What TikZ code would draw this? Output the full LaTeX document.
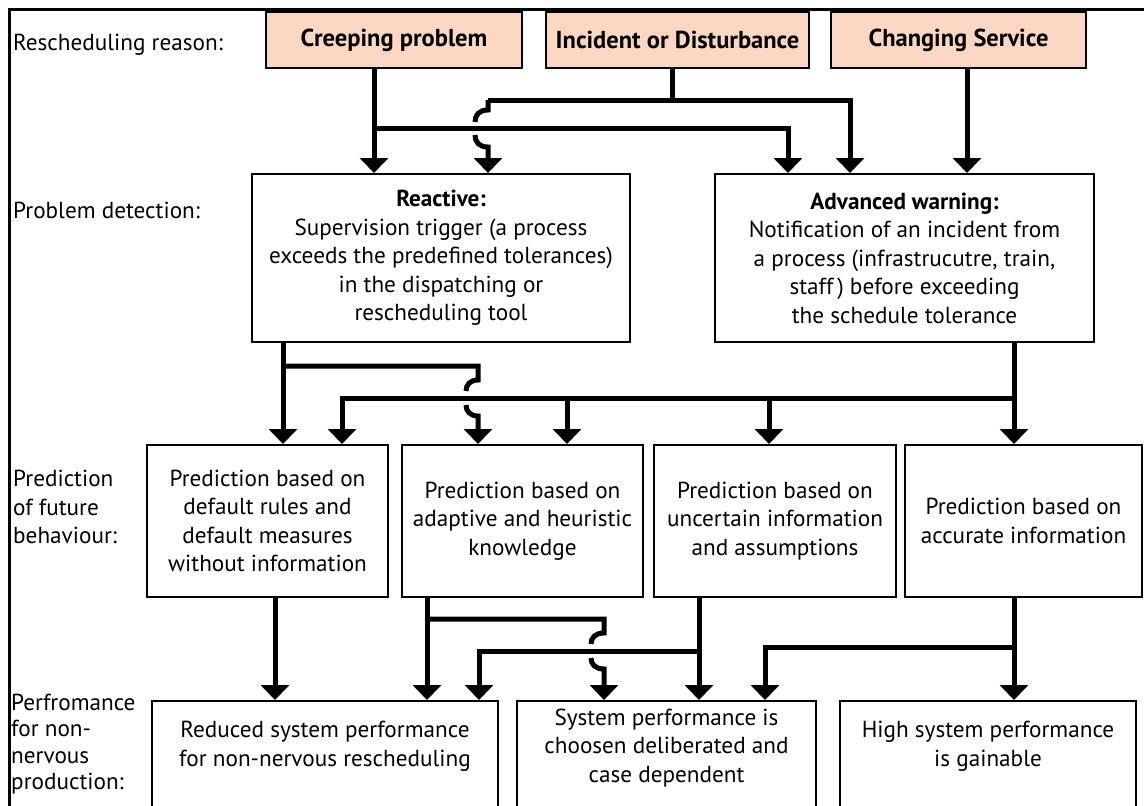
\documentclass[tikz,border=0pt]{standalone}
\usepackage{fontspec}
\setmainfont{PT Sans}
\usetikzlibrary{arrows.meta}
\definecolor{salmon}{RGB}{251,215,196}
\begin{document}
\begin{tikzpicture}[x=1pt,y=-1pt,
  txt/.style={inner sep=0pt, align=center, font=\fontsize{23.2}{28.5}\selectfont},
  lab/.style={inner sep=0pt, anchor=west, align=left, font=\fontsize{23.2}{28.5}\selectfont},
  box/.style={draw, line width=2pt, rectangle, inner sep=0pt, align=center, font=\fontsize{23.2}{28.5}\selectfont},
  topbox/.style={box, fill=salmon, font=\fontsize{24.5}{28.5}\selectfont\bfseries, minimum height=56},
  conn/.style={line width=5pt},
  arr/.style={conn, -{Triangle[width=28pt,length=15pt]}}]
\useasboundingbox (0,0) rectangle (1144,806);
\clip (0,0) rectangle (1144,806);
\draw[line width=3pt] (1144,9) -- (9,9) -- (9,806);

% labels
\node[lab] (l1) at (13,45) {Rescheduling reason:};
\node[lab] (l2) at (13,210) {Problem detection:};
\node[lab] (l3) at (13,507) {Prediction\\of future\\behaviour:};
\node[lab, font=\fontsize{23.2}{26.5}\selectfont] (l4) at (11,744) {Perfromance\\for non-\\nervous\\production:};

% top row
\node[topbox, minimum width=256] (creep) at (394,40) {Creeping problem};
\node[topbox, minimum width=263] (incident) at (677.5,40) {Incident or Disturbance};
\node[topbox, minimum width=255] (changing) at (958.5,40) {Changing Service};

% detection row
\node[box, minimum width=378, minimum height=168] (reactive) at (441,258)
  {\textbf{Reactive:}\\Supervision trigger (a process\\exceeds the predefined tolerances)\\in the dispatching or\\rescheduling tool};
\node[box, minimum width=379, minimum height=168] (advanced) at (904.5,258)
  {\textbf{Advanced warning:}\\Notification of an incident from\\a process (infrastrucutre, train,\\staff\,) before exceeding\\the schedule tolerance};

% prediction row
\node[box, minimum width=241, minimum height=152] (m1) at (267.5,521)
  {Prediction based on\\default rules and\\default measures\\without information};
\node[box, minimum width=241, minimum height=152] (m2) at (522.5,521)
  {Prediction based on\\adaptive and heuristic\\knowledge};
\node[box, minimum width=242, minimum height=152] (m3) at (775,521)
  {Prediction based on\\uncertain information\\and assumptions};
\node[box, minimum width=237, minimum height=152] (m4) at (1023.5,521)
  {Prediction based on\\accurate information};

% performance row
\node[box, minimum width=346, minimum height=120] (b1) at (325,761) {};
\node[box, minimum width=299, minimum height=120] (b2) at (666.5,761) {};
\node[box, minimum width=296, minimum height=120] (b3) at (988,761) {};
\node[txt] (b1t) at (325,746) {Reduced system performance\\for non-nervous rescheduling};
\node[txt] (b2t) at (666.5,748) {System performance is\\choosen deliberated and\\case dependent};
\node[txt] (b3t) at (988,746) {High system performance\\is gainable};

% columns and rows
\coordinate (xa) at (374,0); \coordinate (xb) at (488,0); \coordinate (xc) at (672,0);
\coordinate (xd) at (788,0); \coordinate (xe) at (850,0); \coordinate (xf) at (967,0);
\coordinate (y1) at (0,100); \coordinate (y2) at (0,128);
\coordinate (xg) at (283,0); \coordinate (xh) at (478,0); \coordinate (xi) at (342,0);
\coordinate (xj) at (567,0); \coordinate (xk) at (769,0); \coordinate (xl) at (1014,0);
\coordinate (y3) at (0,366); \coordinate (y4) at (0,398);
\coordinate (xm) at (275,0); \coordinate (xn) at (427,0); \coordinate (xo) at (604,0);
\coordinate (xp) at (699,0); \coordinate (xq) at (479,0); \coordinate (xr) at (765,0);
\coordinate (y5) at (0,619); \coordinate (y6) at (0,651); \coordinate (y7) at (0,647);

% top connectors
\draw[arr] (creep.south -| xa) -- (reactive.north -| xa);
\draw[arr] (xa |- y2) -- (xd |- y2) -- (advanced.north -| xd);
\draw[conn] (incident.south -| xc) -- (xc |- y1);
\draw[arr] (xb |- y1) -- (xe |- y1) -- (advanced.north -| xe);
\draw[conn] (xb |- y1) -- (488,110) .. controls (479,110) and (475,115) .. (475,122);
\draw[arr] (475,135) .. controls (475,142) and (479,147) .. (488,147) -- (reactive.north -| xb);
\draw[arr] (changing.south -| xf) -- (advanced.north -| xf);

% middle connectors
\draw[arr] (reactive.south -| xg) -- (m1.north -| xg);
\draw[conn] (xg |- y3) -- (xh |- y3) -- (478,380) .. controls (470,380) and (466,385) .. (466,391);
\draw[arr] (466,405) .. controls (466,411) and (470,416) .. (478,416) -- (m2.north -| xh);
\draw[arr] (advanced.south -| xl) -- (m4.north -| xl);
\draw[arr] (xl |- y4) -- (xi |- y4) -- (m1.north -| xi);
\draw[arr] (xj |- y4) -- (m2.north -| xj);
\draw[arr] (xk |- y4) -- (m3.north -| xk);

% bottom connectors
\draw[arr] (m1.south -| xm) -- (b1.north -| xm);
\draw[arr] (m2.south -| xn) -- (b1.north -| xn);
\draw[conn] (xn |- y5) -- (xo |- y5) -- (604,633) .. controls (595,633) and (591,638) .. (591,644);
\draw[arr] (591,658) .. controls (591,664) and (595,669) .. (604,669) -- (b2.north -| xo);
\draw[arr] (m3.south -| xp) -- (b2.north -| xp);
\draw[arr] (xp |- y6) -- (xq |- y6) -- (b1.north -| xq);
\draw[arr] (m4.south -| xl) -- (b3.north -| xl);
\draw[arr] (xl |- y7) -- (xr |- y7) -- (b2.north -| xr);
\end{tikzpicture}
\end{document}
